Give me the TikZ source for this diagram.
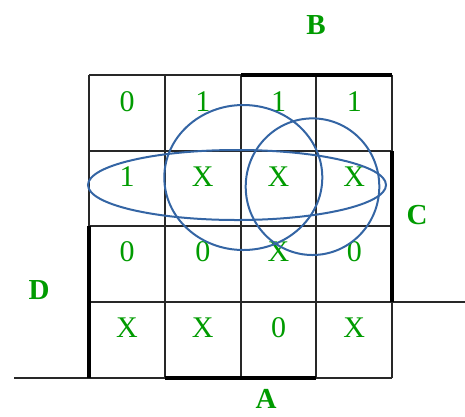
\documentclass[tikz,border=0pt]{standalone}
\usepackage{fontspec}
\setmainfont{Liberation Serif}
\usepackage{xcolor}
\usetikzlibrary{positioning,calc}
\definecolor{kgreen}{RGB}{0,155,0}
\definecolor{kblue}{RGB}{52,101,164}
\definecolor{kgrid}{RGB}{40,40,40}
\tikzset{
    val/.style={text=kgreen,font=\fontsize{30}{30}\selectfont,inner sep=0pt},
    varlbl/.style={text=kgreen,font=\fontsize{29}{29}\selectfont\bfseries,inner sep=0pt},
    gridline/.style={draw=kgrid,line width=1.2pt},
    span/.style={draw=black,line width=3.5pt},
    group/.style={draw=kblue,line width=2pt},
}
\begin{document}
\begin{tikzpicture}[x=1pt,y=-1pt]
\useasboundingbox (0,0) rectangle (465,416);
% map grid
\foreach \x in {89,165,241,316,392} \draw[gridline] (\x,75) -- (\x,378);
\foreach \y in {75,151,226,302,378} \draw[gridline] (89,\y) -- (392,\y);
\draw[gridline] (14,378) -- (89,378);
\draw[gridline] (392,302) -- (465,302);
% variable spans
\draw[span] (241,75) -- (392,75);
\draw[span] (392,151) -- (392,302);
\draw[span] (89,226) -- (89,378);
\draw[span] (165,378) -- (316,378);
% cell values
\foreach \v [count=\i from 0] in {0,1,1,1} \node[val] (r1c\i) at (127+75.75*\i,102) {\v};
\foreach \v [count=\i from 0] in {1,X,X,X} \node[val] (r2c\i) at (127+75.75*\i,177) {\v};
\foreach \v [count=\i from 0] in {0,0,X,0} \node[val] (r3c\i) at (127+75.75*\i,252) {\v};
\foreach \v [count=\i from 0] in {X,X,0,X} \node[val] (r4c\i) at (127+75.75*\i,328) {\v};
% variable names
\node[varlbl] (B) at (316,25) {B};
\node[varlbl] (C) at (417,215) {C};
\node[varlbl] (D) at (39,290) {D};
\node[varlbl] (A) at (266,399) {A};
% groups
\draw[group] (237,185) ellipse [x radius=149,y radius=35];
\draw[group] (243.3,177.5) ellipse [x radius=79,y radius=72.5];
\draw[group] (312.5,186.7) ellipse [x radius=66.8,y radius=68.3];
\end{tikzpicture}
\end{document}
